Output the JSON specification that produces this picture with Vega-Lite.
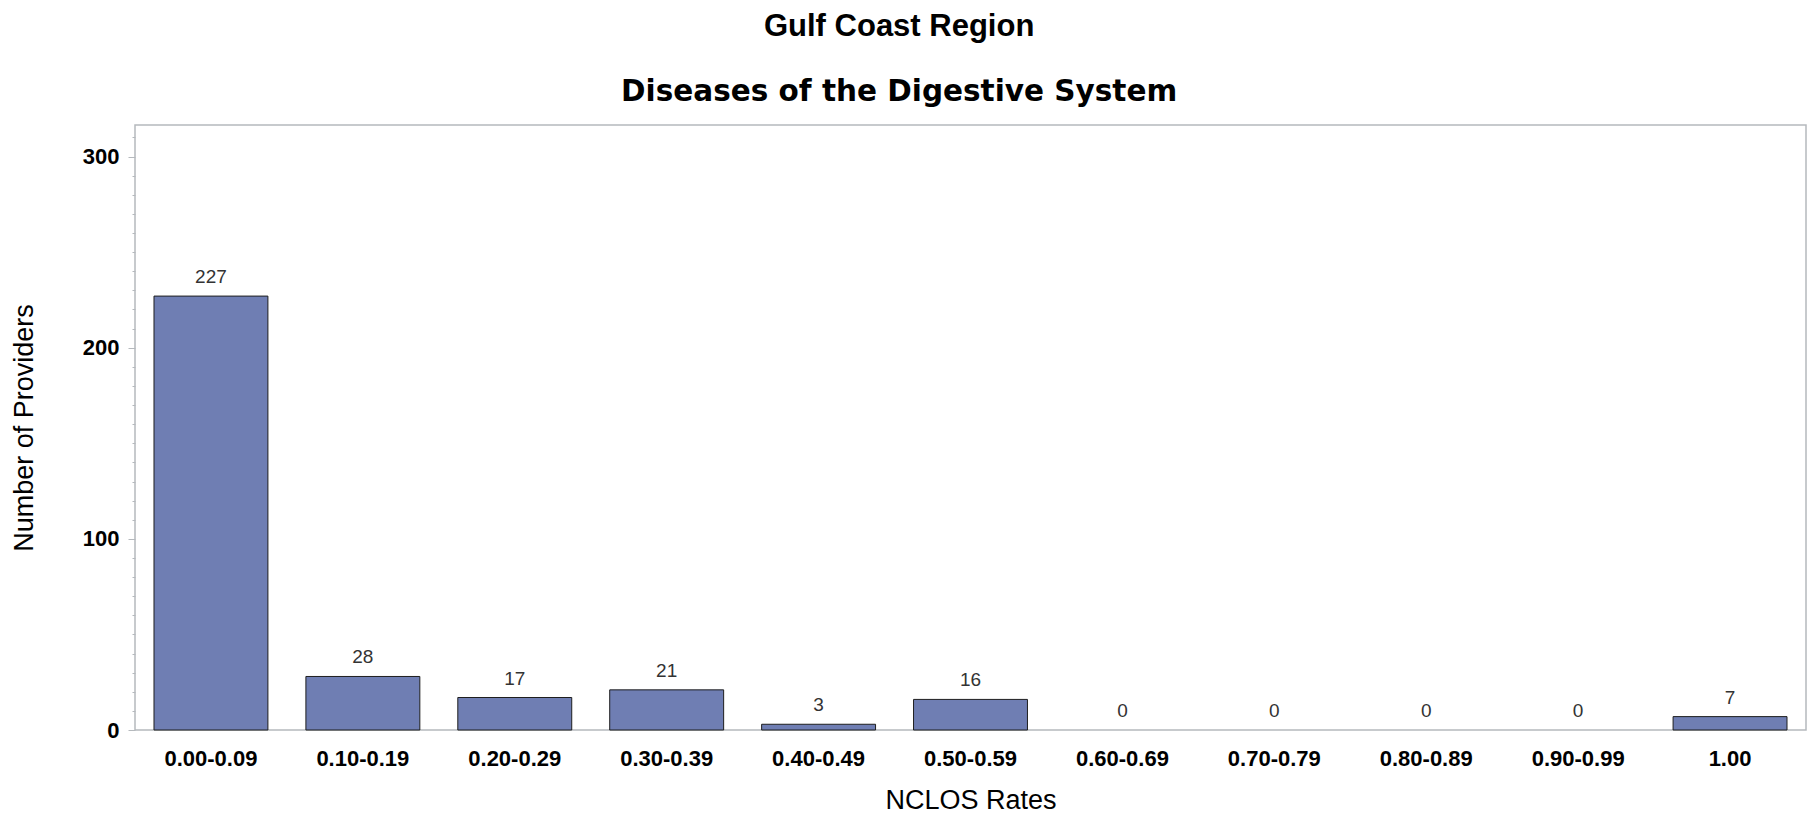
{
  "$schema": "https://vega.github.io/schema/vega-lite/v6.json",
  "autosize": "none",
  "width": 1671,
  "height": 605,
  "padding": {"left": 135, "top": 125, "right": 6, "bottom": 85},
  "background": "white",
  "title": {
    "text": "Gulf Coast Region",
    "subtitle": "Diseases of the Digestive System",
    "font": "Liberation Sans",
    "fontSize": 31,
    "fontWeight": "bold",
    "color": "black",
    "subtitleFont": "DejaVu Sans",
    "subtitleFontSize": 29.5,
    "subtitleFontWeight": "bold",
    "subtitleColor": "black",
    "subtitlePadding": 35,
    "anchor": "middle",
    "frame": "bounds",
    "offset": 18,
    "dx": -9
  },
  "data": {
    "values": [
      {"rate": "0.00-0.09", "providers": 227},
      {"rate": "0.10-0.19", "providers": 28},
      {"rate": "0.20-0.29", "providers": 17},
      {"rate": "0.30-0.39", "providers": 21},
      {"rate": "0.40-0.49", "providers": 3},
      {"rate": "0.50-0.59", "providers": 16},
      {"rate": "0.60-0.69", "providers": 0},
      {"rate": "0.70-0.79", "providers": 0},
      {"rate": "0.80-0.89", "providers": 0},
      {"rate": "0.90-0.99", "providers": 0},
      {"rate": "1.00", "providers": 7}
    ]
  },
  "encoding": {
    "x": {
      "field": "rate",
      "type": "nominal",
      "sort": null,
      "scale": {
        "domain": ["0.00-0.09", "0.10-0.19", "0.20-0.29", "0.30-0.39", "0.40-0.49", "0.50-0.59", "0.60-0.69", "0.70-0.79", "0.80-0.89", "0.90-0.99", "1.00"],
        "paddingInner": 0.25,
        "paddingOuter": 0.125
      },
      "axis": {
        "title": "NCLOS Rates",
        "labelAngle": 0,
        "labelFont": "Liberation Sans",
        "labelFontSize": 22,
        "labelFontWeight": "bold",
        "labelColor": "black",
        "labelPadding": 18,
        "ticks": false,
        "tickSize": 0,
        "domain": false,
        "titleFont": "Liberation Sans",
        "titleFontSize": 27,
        "titleFontWeight": "normal",
        "titleColor": "black",
        "titlePadding": 18
      }
    },
    "y": {
      "field": "providers",
      "type": "quantitative",
      "scale": {"domain": [0, 316.5], "nice": false, "zero": true},
      "axis": {
        "title": "Number of Providers",
        "values": [0,10,20,30,40,50,60,70,80,90,100,110,120,130,140,150,160,170,180,190,200,210,220,230,240,250,260,270,280,290,300,310],
        "labelExpr": "datum.value % 100 === 0 ? datum.label : ''",
        "grid": false,
        "domain": false,
        "tickColor": "#B5B9BD",
        "tickSize": {"condition": {"test": "datum.value % 100 === 0", "value": 7}, "value": 3},
        "labelFont": "Liberation Sans",
        "labelFontSize": 22,
        "labelFontWeight": "bold",
        "labelColor": "black",
        "labelPadding": 9,
        "labelBaseline": "middle",
        "titleFont": "Liberation Sans",
        "titleFontSize": 27,
        "titleFontWeight": "normal",
        "titleColor": "black",
        "titlePadding": 44
      }
    }
  },
  "layer": [
    {
      "transform": [{"filter": "datum.providers > 0"}],
      "mark": {"type": "bar", "fill": "#6F7EB3", "stroke": "#1E1E1E", "strokeWidth": 1}
    },
    {
      "mark": {"type": "text", "font": "Liberation Sans", "fontSize": 19, "color": "#333333", "baseline": "alphabetic", "dy": -13},
      "encoding": {"text": {"field": "providers", "type": "quantitative"}}
    }
  ],
  "config": {
    "view": {"stroke": "#B5B9BD", "strokeWidth": 1.5}
  }
}
